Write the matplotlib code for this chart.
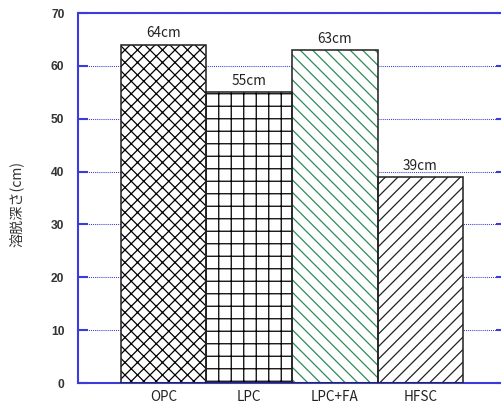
import matplotlib
matplotlib.use("Agg")
import matplotlib.pyplot as plt

# 溶脱深さ by cement type
types = ["OPC", "LPC", "LPC+FA", "HFSC"]
depth = [64, 55, 63, 39]
hatches = ["xx", "+", "\\\\", "//"]
hatch_cols = ["black", "black", "#2e8b57", "#222222"]
yticks = [0, 10, 20, 30, 40, 50, 60, 70]

blue = "#3c3cdc"
jp = "Noto Sans CJK JP"

plt.rcParams["hatch.linewidth"] = 1.2

# dpi 75 keeps hatch spacing at ~12 px
fig = plt.figure(figsize=(501 / 75, 415 / 75), dpi=75)
ax = fig.add_axes([78 / 501, 32 / 415, 428 / 501, 370 / 415])

x = list(range(len(types)))
# hatch layer (hatch colour follows edgecolor), then the outline on top
ax.bar(x, depth, width=1.0, color="white", edgecolor=hatch_cols,
       hatch=hatches, linewidth=0, zorder=2)
ax.bar(x, depth, width=1.0, fill=False, edgecolor="#222222",
       linewidth=1.5, zorder=3)

for xi, d in zip(x, depth):
    ax.text(xi, d + 0.8, f"{d}cm", ha="center", va="bottom",
            fontsize=13, family=jp, color="#222222")

ax.set_xlim(-1, 4)
ax.set_ylim(0, 70)
ax.set_yticks(yticks)
ax.set_yticklabels([str(v) for v in yticks], family="Liberation Sans",
                   fontweight="bold", fontsize=11.5, color="#333333")
ax.set_xticks(x)
ax.set_xticklabels(types, family=jp, fontsize=13, color="#222222")

ax.tick_params(axis="y", direction="in", length=9.5, width=2, color=blue,
               pad=13, right=True)
ax.tick_params(axis="x", length=0, pad=7)

ax.yaxis.grid(True, linestyle=(0, (1, 1)), color=blue, linewidth=1)
ax.set_axisbelow(True)

for sp in ax.spines.values():
    sp.set_color(blue)
    sp.set_linewidth(2)

ax.set_ylabel("溶脱深さ(cm)", family=jp, fontsize=13.5, color="#333333")
ax.yaxis.set_label_coords(-0.127, 0.484)

fig.savefig("out.png", dpi=75)
